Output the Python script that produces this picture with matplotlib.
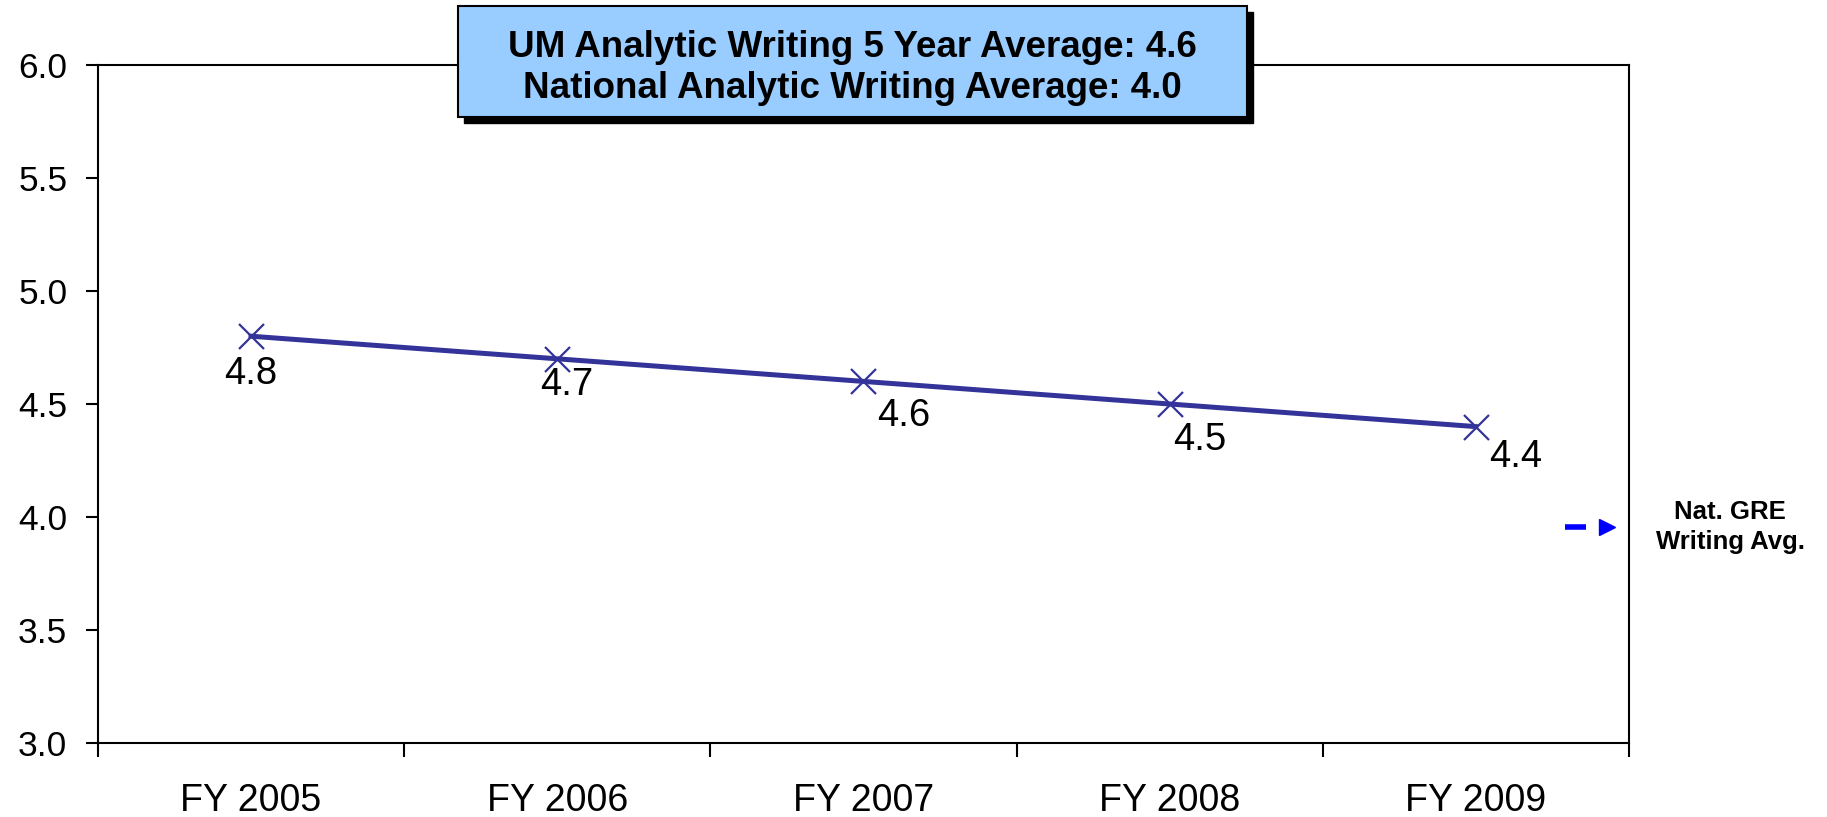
import numpy as np
import matplotlib.pyplot as plt
from matplotlib.patches import Rectangle
from matplotlib.lines import Line2D

# ---------------- data ----------------
years = ["FY 2005", "FY 2006", "FY 2007", "FY 2008", "FY 2009"]
um_writing = [4.8, 4.7, 4.6, 4.5, 4.4]
um_avg = 4.6
nat_avg = 4.0
y_ticks = [3.0, 3.5, 4.0, 4.5, 5.0, 5.5, 6.0]

# label offsets (points) for the data labels, picked by eye
label_off = [(0, -27), (7, -19), (29, -25), (22, -26), (29, -22)]

plt.rcParams['font.family'] = ['Liberation Sans', 'DejaVu Sans']

fig = plt.figure(figsize=(18.27, 8.17), dpi=100)
ax = fig.add_axes([0.0536, 0.0906, 0.838, 0.8298])

x = np.arange(len(years))
ax.plot(x, um_writing, color="#333399", lw=3.6, marker="x", ms=18,
        mew=1.6, mec="#333399", zorder=3)

for xi, yi, (dx, dy) in zip(x, um_writing, label_off):
    ax.annotate(f"{yi:.1f}", (xi, yi), xytext=(dx, dy), textcoords="offset points",
                ha="center", va="center", fontsize=27.5)

ax.set_xlim(-0.5, len(years) - 0.5)
ax.set_ylim(3.0, 6.0)
ax.set_yticks(y_ticks)
ax.set_yticklabels([f"{v:.1f}" for v in y_ticks], fontsize=25.5)

ax.set_xticks(np.arange(-0.5, len(years)), minor=False)
ax.set_xticklabels([])
ax.set_xticks(x, minor=True)
ax.set_xticklabels(years, minor=True, fontsize=27)
ax.tick_params(axis="x", which="major", length=10, width=1.5, direction="out")
ax.tick_params(axis="x", which="minor", length=0, pad=29)
ax.tick_params(axis="y", length=9, width=1.5, direction="out", pad=13)

for s in ax.spines.values():
    s.set_linewidth(1.5)

# ---------------- title box ----------------
bx, by, bw, bh = 0.2507, 0.8568, 0.4319, 0.1359
fig.patches.append(Rectangle((bx + 0.0033, by - 0.0073), bw, bh, transform=fig.transFigure,
                             facecolor="black", edgecolor="black", zorder=5))
fig.patches.append(Rectangle((bx, by), bw, bh, transform=fig.transFigure,
                             facecolor="#99CCFF", edgecolor="black", lw=1.5, zorder=6))
fig.text(bx + bw / 2, by + bh / 2 - 0.008,
         f"UM Analytic Writing 5 Year Average: {um_avg:.1f}\n"
         f"National Analytic Writing Average: {nat_avg:.1f}",
         ha="center", va="center", fontsize=26.5, fontweight="bold",
         linespacing=1.2, zorder=7)

# ---------------- legend (outside right) ----------------
fig.lines.append(Line2D([0.8566, 0.8681], [0.355, 0.355], transform=fig.transFigure,
                        color="#0000FF", lw=4, solid_capstyle="butt"))
fig.lines.append(Line2D([0.8795], [0.355], transform=fig.transFigure,
                        color="#0000FF", marker=">", ms=11, ls="none"))
fig.text(0.947, 0.355, "Nat. GRE\nWriting Avg.", ha="center", va="center",
         fontsize=18.5, fontweight="bold", linespacing=1.3)

fig.savefig("out.png", dpi=100)
